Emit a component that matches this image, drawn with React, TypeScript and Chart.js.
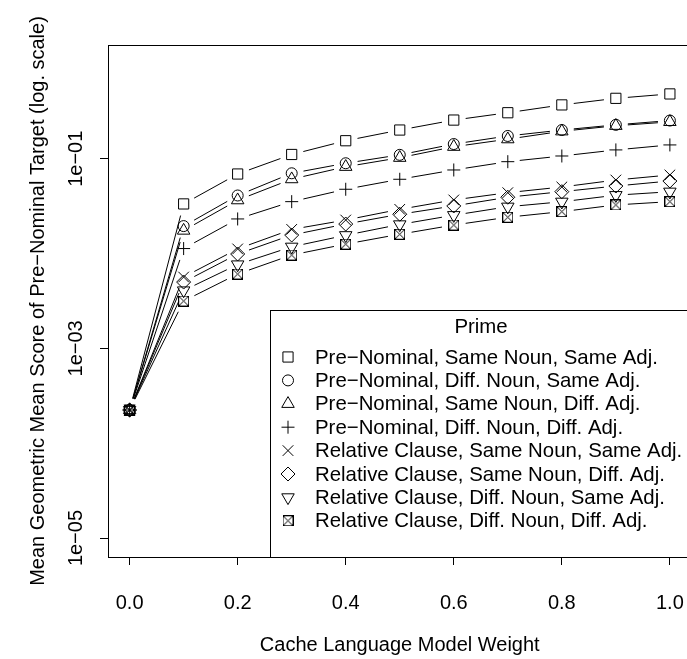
import { useEffect, useRef } from 'react';
import { Chart, registerables } from 'chart.js';
import { drawPoint } from 'chart.js/helpers';

Chart.register(...registerables);

// Cache language model weight (x axis)
const weights = [0, 0.1, 0.2, 0.3, 0.4, 0.5, 0.6, 0.7, 0.8, 0.9, 1.0];

// Mean geometric mean score of the pre-nominal target, one series per prime type
const preSameNounSameAdj = [0.000224, 0.0334, 0.0691, 0.111, 0.155, 0.201, 0.256, 0.306, 0.370, 0.434, 0.483];
const preDiffNounSameAdj = [0.000224, 0.0195, 0.0410, 0.0703, 0.0897, 0.110, 0.143, 0.174, 0.201, 0.228, 0.253];
const preSameNounDiffAdj = [0.000224, 0.0175, 0.0366, 0.0610, 0.0824, 0.1026, 0.134, 0.161, 0.195, 0.223, 0.245];
const preDiffNounDiffAdj = [0.000224, 0.0113, 0.0232, 0.0353, 0.0477, 0.0608, 0.0762, 0.0932, 0.107, 0.124, 0.140];
const relSameNounSameAdj = [0.000224, 0.00566, 0.0112, 0.0180, 0.0226, 0.0293, 0.0368, 0.0439, 0.0504, 0.0597, 0.0675];
const relSameNounDiffAdj = [0.000224, 0.00501, 0.00990, 0.0157, 0.0205, 0.0260, 0.0318, 0.0393, 0.0450, 0.0516, 0.0583];
const relDiffNounSameAdj = [0.000224, 0.00408, 0.00767, 0.0118, 0.0156, 0.0203, 0.0254, 0.0312, 0.0352, 0.0413, 0.0449];
const relDiffNounDiffAdj = [0.000224, 0.00316, 0.00609, 0.00966, 0.0126, 0.0160, 0.0200, 0.0242, 0.0277, 0.0326, 0.0353];

const seriesLabels = [
  'Pre\u2212Nominal, Same Noun, Same Adj.',
  'Pre\u2212Nominal, Diff. Noun, Same Adj.',
  'Pre\u2212Nominal, Same Noun, Diff. Adj.',
  'Pre\u2212Nominal, Diff. Noun, Diff. Adj.',
  'Relative Clause, Same Noun, Same Adj.',
  'Relative Clause, Same Noun, Diff. Adj.',
  'Relative Clause, Diff. Noun, Same Adj.',
  'Relative Clause, Diff. Noun, Diff. Adj.',
];

const xTickValues = [0, 0.2, 0.4, 0.6, 0.8, 1.0];
const xTickLabels = ['0.0', '0.2', '0.4', '0.6', '0.8', '1.0'];
const yTickValues = [1e-5, 1e-3, 1e-1];
const yTickLabels = ['1e\u221205', '1e\u221203', '1e\u221201'];

const legendTitle = 'Prime';
const xTitle = 'Cache Language Model Weight';
const yTitle = 'Mean Geometric Mean Score of Pre\u2212Nominal Target (log. scale)';

const FONT = '"Liberation Sans", Arial, Helvetica, sans-serif';
const FONT_SIZE = 20;
const LEGEND_FONT_SIZE = 20.4;
const LINE_GAP = 12;

// square with an inscribed X
function boxedCross(size: number): HTMLCanvasElement {
  const c = document.createElement('canvas');
  c.width = size;
  c.height = size;
  const g = c.getContext('2d')!;
  g.strokeStyle = '#000';
  g.lineWidth = 1;
  g.strokeRect(0.5, 0.5, size - 1, size - 1);
  g.beginPath();
  g.moveTo(0.5, 0.5);
  g.lineTo(size - 0.5, size - 0.5);
  g.moveTo(size - 0.5, 0.5);
  g.lineTo(0.5, size - 0.5);
  g.stroke();
  return c;
}

type Marker = { style: any; radius: number; rotation: number };

function markers(): Marker[] {
  return [
    { style: 'rect', radius: 7.2, rotation: 0 },
    { style: 'circle', radius: 5.5, rotation: 0 },
    { style: 'triangle', radius: 7.2, rotation: 0 },
    { style: 'cross', radius: 6.5, rotation: 0 },
    { style: 'crossRot', radius: 7.5, rotation: 0 },
    { style: 'rectRot', radius: 7, rotation: 0 },
    { style: 'triangle', radius: 7.2, rotation: 180 },
    { style: boxedCross(11), radius: 5, rotation: 0 },
  ];
}

// plot frame drawn around the chart area
const framePlugin = {
  id: 'frame',
  afterDatasetsDraw(chart: any) {
    const { ctx, chartArea } = chart;
    ctx.save();
    ctx.strokeStyle = '#000';
    ctx.lineWidth = 1;
    ctx.strokeRect(
      Math.round(chartArea.left) + 0.5,
      Math.round(chartArea.top) + 0.5,
      Math.round(chartArea.right - chartArea.left),
      Math.round(chartArea.bottom - chartArea.top)
    );
    ctx.restore();
  },
};

// boxed legend anchored at the bottom-right corner of the plot
const boxLegendPlugin = {
  id: 'boxLegend',
  afterDatasetsDraw(chart: any, _args: any, opts: any) {
    const { ctx, chartArea } = chart;
    const right = Math.round(chartArea.right);
    const bottom = Math.round(chartArea.bottom);
    const left = opts.left;
    const top = opts.top;
    ctx.save();
    ctx.fillStyle = '#fff';
    ctx.fillRect(left, top, right - left, bottom - top);
    ctx.strokeStyle = '#000';
    ctx.lineWidth = 1;
    ctx.strokeRect(left + 0.5, top + 0.5, right - left, bottom - top);
    ctx.font = `${LEGEND_FONT_SIZE}px ${FONT}`;
    ctx.fillStyle = '#000';
    ctx.textBaseline = 'middle';
    ctx.textAlign = 'center';
    ctx.fillText(opts.title, (left + right) / 2, opts.titleY);
    ctx.textAlign = 'left';
    chart.data.datasets.forEach((ds: any, i: number) => {
      const y = opts.firstRowY + i * opts.rowStep;
      ctx.strokeStyle = '#000';
      ctx.fillStyle = 'rgba(0,0,0,0)';
      ctx.lineWidth = 1;
      drawPoint(
        ctx,
        { pointStyle: ds.pointStyle, radius: ds.pointRadius, rotation: ds.pointRotation, borderWidth: 1 } as any,
        opts.symbolX,
        y
      );
      ctx.fillStyle = '#000';
      ctx.fillText(ds.label, opts.textX, y + 1);
    });
    ctx.restore();
  },
};

export default function App() {
  const canvasRef = useRef<HTMLCanvasElement | null>(null);

  useEffect(() => {
    if (!canvasRef.current) return;
    const series = [
      preSameNounSameAdj,
      preDiffNounSameAdj,
      preSameNounDiffAdj,
      preDiffNounDiffAdj,
      relSameNounSameAdj,
      relSameNounDiffAdj,
      relDiffNounSameAdj,
      relDiffNounDiffAdj,
    ];
    const marks = markers();
    const datasets = series.map((values, i) => ({
      label: seriesLabels[i],
      data: values.map((v, j) => ({ x: weights[j], y: v })),
      borderColor: '#000',
      borderWidth: 1,
      backgroundColor: 'rgba(0,0,0,0)',
      fill: false,
      tension: 0,
      pointStyle: marks[i].style,
      pointRadius: marks[i].radius,
      pointHoverRadius: marks[i].radius,
      pointRotation: marks[i].rotation,
      pointBorderColor: '#000',
      pointBackgroundColor: 'rgba(0,0,0,0)',
      pointBorderWidth: 1,
      // leave a gap around each marker, like a points-and-lines plot
      segment: {
        borderDash: (c: any) => {
          const len = Math.hypot(c.p1.x - c.p0.x, c.p1.y - c.p0.y);
          if (len <= 2 * LINE_GAP) return [0, len + 1];
          return [0, LINE_GAP, len - 2 * LINE_GAP, LINE_GAP];
        },
      },
    }));

    Chart.defaults.color = '#000';
    Chart.defaults.font.family = FONT;
    Chart.defaults.font.size = FONT_SIZE;

    const chart = new Chart(canvasRef.current, {
      type: 'line',
      data: { datasets },
      plugins: [framePlugin, boxLegendPlugin],
      options: {
        responsive: false,
        animation: false,
        devicePixelRatio: 1,
        events: [],
        layout: { padding: { left: 0, top: 45, right: 7, bottom: 0 } },
        plugins: {
          legend: { display: false },
          tooltip: { enabled: false },
          boxLegend: {
            left: 270,
            top: 310,
            title: legendTitle,
            titleY: 327,
            firstRowY: 357,
            rowStep: 23.4,
            symbolX: 288,
            textX: 315,
          },
        } as any,
        scales: {
          x: {
            type: 'linear',
            position: 'bottom',
            min: -0.04,
            max: 1.04,
            bounds: 'data',
            afterBuildTicks: (s: any) => {
              s.ticks = xTickValues.map((v) => ({ value: v }));
            },
            afterFit: (s: any) => {
              s.height = 102;
              s.paddingLeft = 0;
              s.paddingRight = 0;
            },
            ticks: {
              autoSkip: false,
              maxRotation: 0,
              padding: 26,
              font: { size: FONT_SIZE, family: FONT },
              color: '#000',
              callback: (v: any) => {
                const k = xTickValues.findIndex((t) => Math.abs(t - v) < 1e-9);
                return k >= 0 ? xTickLabels[k] : '';
              },
            },
            grid: { drawOnChartArea: false, drawTicks: true, tickLength: 8, color: '#000', lineWidth: 1 },
            border: { display: false },
            title: {
              display: true,
              text: xTitle,
              color: '#000',
              font: { size: FONT_SIZE, family: FONT },
              padding: { top: 0, bottom: 2 },
            },
          },
          y: {
            type: 'logarithmic',
            position: 'left',
            min: Math.pow(10, -5.2),
            max: Math.pow(10, 0.2),
            bounds: 'data',
            afterBuildTicks: (s: any) => {
              s.ticks = yTickValues.map((v) => ({ value: v }));
            },
            afterFit: (s: any) => {
              s.width = 108;
              s.paddingTop = 0;
              s.paddingBottom = 0;
            },
            ticks: {
              autoSkip: false,
              minRotation: 90,
              maxRotation: 90,
              crossAlign: 'center',
              padding: -5,
              font: { size: FONT_SIZE, family: FONT },
              color: '#000',
              callback: (v: any) => {
                const k = yTickValues.findIndex((t) => Math.abs(Math.log10(t) - Math.log10(v)) < 1e-6);
                return k >= 0 ? yTickLabels[k] : '';
              },
            },
            grid: { drawOnChartArea: false, drawTicks: true, tickLength: 8, color: '#000', lineWidth: 1 },
            border: { display: false },
            title: {
              display: true,
              text: yTitle,
              color: '#000',
              font: { size: FONT_SIZE, family: FONT },
              padding: { top: 26, bottom: 0 },
            },
          },
        },
      } as any,
    });
    return () => chart.destroy();
  }, []);

  return (
    <div
      style={{
        position: 'fixed',
        left: 0,
        top: 0,
        width: 687,
        height: 659,
        overflow: 'hidden',
        background: '#fff',
      }}
    >
      <canvas ref={canvasRef} width={700} height={659} style={{ display: 'block', width: 700, height: 659 }} />
    </div>
  );
}
